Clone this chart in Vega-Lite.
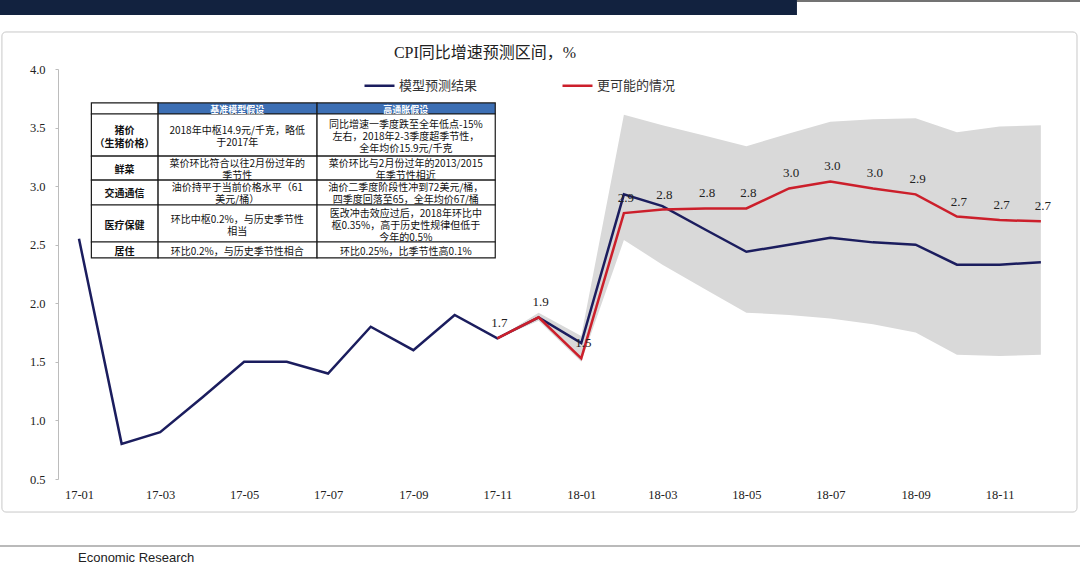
{
  "$schema": "https://vega.github.io/schema/vega-lite/v6.json",
  "width": 998,
  "height": 410,
  "autosize": {"type": "none"},
  "padding": {"left": 58, "top": 69, "right": 24, "bottom": 94},
  "background": "white",
  "config": {
    "view": {"stroke": null},
    "axisX": {
      "labelFont": "Liberation Serif",
      "labelFontSize": 12.5,
      "labelColor": "#222222",
      "tickSize": 0,
      "domain": false,
      "grid": false,
      "labelPadding": 9,
      "labelFlush": false,
      "labelOverlap": false
    },
    "axisY": {
      "labelFont": "Liberation Serif",
      "labelFontSize": 12.5,
      "labelColor": "#222222",
      "domainColor": "#bcbcbc",
      "tickColor": "#bcbcbc",
      "tickSize": 3,
      "grid": false,
      "labelPadding": 10,
      "labelFlush": false,
      "labelOverlap": false
    },
    "text": {"lineBreak": "\n"}
  },
  "datasets": {
    "series": [
      {"date": "2017-01-01", "model": 2.55},
      {"date": "2017-02-01", "model": 0.8},
      {"date": "2017-03-01", "model": 0.9},
      {"date": "2017-04-01", "model": 1.2},
      {"date": "2017-05-01", "model": 1.5},
      {"date": "2017-06-01", "model": 1.5},
      {"date": "2017-07-01", "model": 1.4},
      {"date": "2017-08-01", "model": 1.8},
      {"date": "2017-09-01", "model": 1.6},
      {"date": "2017-10-01", "model": 1.9},
      {"date": "2017-11-01", "model": 1.7, "likely": 1.7, "low": 1.7, "high": 1.7, "label": "1.7"},
      {"date": "2017-12-01", "model": 1.88, "likely": 1.88, "low": 1.85, "high": 1.92, "label": "1.9"},
      {"date": "2018-01-01", "model": 1.66, "likely": 1.53, "low": 1.5, "high": 1.72, "label": "1.5"},
      {"date": "2018-02-01", "model": 2.93, "likely": 2.77, "low": 2.54, "high": 3.61, "label": "2.9"},
      {"date": "2018-03-01", "model": 2.83, "likely": 2.8, "low": 2.33, "high": 3.52, "label": "2.8"},
      {"date": "2018-04-01", "model": 2.63, "likely": 2.81, "low": 2.12, "high": 3.43, "label": "2.8"},
      {"date": "2018-05-01", "model": 2.44, "likely": 2.81, "low": 1.92, "high": 3.34, "label": "2.8"},
      {"date": "2018-06-01", "model": 2.5, "likely": 2.98, "low": 1.9, "high": 3.45, "label": "3.0"},
      {"date": "2018-07-01", "model": 2.56, "likely": 3.04, "low": 1.87, "high": 3.55, "label": "3.0"},
      {"date": "2018-08-01", "model": 2.52, "likely": 2.98, "low": 1.82, "high": 3.57, "label": "3.0"},
      {"date": "2018-09-01", "model": 2.5, "likely": 2.93, "low": 1.75, "high": 3.58, "label": "2.9"},
      {"date": "2018-10-01", "model": 2.33, "likely": 2.74, "low": 1.56, "high": 3.46, "label": "2.7"},
      {"date": "2018-11-01", "model": 2.33, "likely": 2.71, "low": 1.55, "high": 3.51, "label": "2.7"},
      {"date": "2018-12-01", "model": 2.35, "likely": 2.7, "low": 1.56, "high": 3.52, "label": "2.7"}
    ],
    "cells": [
      {"row": "表头", "col": "指标", "text": "", "left": "2017-01-10", "right": "2017-02-27T12:00:00Z", "xmid": "2017-02-03", "top": 3.71, "bottom": 3.616, "ytext": 3.646},
      {"row": "表头", "col": "基准", "text": "基准模型假设", "left": "2017-02-27T12:00:00Z", "right": "2017-06-23", "xmid": "2017-04-26", "top": 3.71, "bottom": 3.616, "ytext": 3.646},
      {"row": "表头", "col": "高通胀", "text": "高通胀假设", "left": "2017-06-23", "right": "2017-10-30T12:00:00Z", "xmid": "2017-08-26T12:00:00Z", "top": 3.71, "bottom": 3.616, "ytext": 3.646},
      {"row": "猪价", "col": "指标", "text": "猪价\n（生猪价格）", "left": "2017-01-10", "right": "2017-02-27T12:00:00Z", "xmid": "2017-02-03", "top": 3.616, "bottom": 3.257, "ytext": 3.474},
      {"row": "猪价", "col": "基准", "text": "2018年中枢14.9元/千克，略低\n于2017年", "left": "2017-02-27T12:00:00Z", "right": "2017-06-23", "xmid": "2017-04-26", "top": 3.616, "bottom": 3.257, "ytext": 3.471},
      {"row": "猪价", "col": "高通胀", "text": "同比增速一季度跌至全年低点-15%\n左右，2018年2-3季度超季节性，\n全年均价15.9元/千克", "left": "2017-06-23", "right": "2017-10-30T12:00:00Z", "xmid": "2017-08-26T12:00:00Z", "top": 3.616, "bottom": 3.257, "ytext": 3.522},
      {"row": "鲜菜", "col": "指标", "text": "鲜菜", "left": "2017-01-10", "right": "2017-02-27T12:00:00Z", "xmid": "2017-02-03", "top": 3.257, "bottom": 3.052, "ytext": 3.138},
      {"row": "鲜菜", "col": "基准", "text": "菜价环比符合以往2月份过年的\n季节性", "left": "2017-02-27T12:00:00Z", "right": "2017-06-23", "xmid": "2017-04-26", "top": 3.257, "bottom": 3.052, "ytext": 3.189},
      {"row": "鲜菜", "col": "高通胀", "text": "菜价环比与2月份过年的2013/2015\n年季节性相近", "left": "2017-06-23", "right": "2017-10-30T12:00:00Z", "xmid": "2017-08-26T12:00:00Z", "top": 3.257, "bottom": 3.052, "ytext": 3.189},
      {"row": "交通通信", "col": "指标", "text": "交通通信", "left": "2017-01-10", "right": "2017-02-27T12:00:00Z", "xmid": "2017-02-03", "top": 3.052, "bottom": 2.839, "ytext": 2.929},
      {"row": "交通通信", "col": "基准", "text": "油价持平于当前价格水平（61\n美元/桶）", "left": "2017-02-27T12:00:00Z", "right": "2017-06-23", "xmid": "2017-04-26", "top": 3.052, "bottom": 2.839, "ytext": 2.98},
      {"row": "交通通信", "col": "高通胀", "text": "油价二季度阶段性冲到72美元/桶，\n四季度回落至65，全年均价67/桶", "left": "2017-06-23", "right": "2017-10-30T12:00:00Z", "xmid": "2017-08-26T12:00:00Z", "top": 3.052, "bottom": 2.839, "ytext": 2.98},
      {"row": "医疗保健", "col": "指标", "text": "医疗保健", "left": "2017-01-10", "right": "2017-02-27T12:00:00Z", "xmid": "2017-02-03", "top": 2.839, "bottom": 2.523, "ytext": 2.664},
      {"row": "医疗保健", "col": "基准", "text": "环比中枢0.2%，与历史季节性\n相当", "left": "2017-02-27T12:00:00Z", "right": "2017-06-23", "xmid": "2017-04-26", "top": 2.839, "bottom": 2.523, "ytext": 2.715},
      {"row": "医疗保健", "col": "高通胀", "text": "医改冲击效应过后，2018年环比中\n枢0.35%，高于历史性规律但低于\n今年的0.5%", "left": "2017-06-23", "right": "2017-10-30T12:00:00Z", "xmid": "2017-08-26T12:00:00Z", "top": 2.839, "bottom": 2.523, "ytext": 2.766},
      {"row": "居住", "col": "指标", "text": "居住", "left": "2017-01-10", "right": "2017-02-27T12:00:00Z", "xmid": "2017-02-03", "top": 2.523, "bottom": 2.387, "ytext": 2.438},
      {"row": "居住", "col": "基准", "text": "环比0.2%，与历史季节性相合", "left": "2017-02-27T12:00:00Z", "right": "2017-06-23", "xmid": "2017-04-26", "top": 2.523, "bottom": 2.387, "ytext": 2.438},
      {"row": "居住", "col": "高通胀", "text": "环比0.25%，比季节性高0.1%", "left": "2017-06-23", "right": "2017-10-30T12:00:00Z", "xmid": "2017-08-26T12:00:00Z", "top": 2.523, "bottom": 2.387, "ytext": 2.438}
    ]
  },
  "layer": [
    {
      "data": {"values": [{}]},
      "mark": {"type": "rect", "fill": "transparent", "stroke": "#c8c8c8", "strokeWidth": 1, "cornerRadius": 4},
      "encoding": {
        "x": {"datum": {"year": 2016, "month": 11, "date": 6, "utc": true}, "type": "temporal", "scale": {"type": "utc"}, "title": null},
        "x2": {"datum": {"year": 2018, "month": 12, "date": 27, "hours": 6, "utc": true}},
        "y": {"datum": 4.316, "type": "quantitative", "title": null},
        "y2": {"datum": 0.218}
      }
    },
    {
      "data": {"values": [{}]},
      "mark": {"type": "rect", "fill": "#12223f"},
      "encoding": {
        "x": {"datum": {"year": 2016, "month": 10, "date": 1, "utc": true}, "type": "temporal", "scale": {"type": "utc"}, "title": null},
        "x2": {"datum": {"year": 2018, "month": 6, "date": 6, "hours": 18, "utc": true}},
        "y": {"datum": 4.75, "type": "quantitative", "title": null},
        "y2": {"datum": 4.461}
      }
    },
    {
      "data": {"values": [{}]},
      "mark": {"type": "rule", "stroke": "#444444", "strokeWidth": 1.5},
      "encoding": {
        "x": {"datum": {"year": 2018, "month": 6, "date": 6, "hours": 18, "utc": true}, "type": "temporal", "scale": {"type": "utc"}, "title": null},
        "x2": {"datum": {"year": 2019, "month": 3, "date": 1, "utc": true}},
        "y": {"datum": 4.58, "type": "quantitative", "title": null}
      }
    },
    {
      "data": {"values": [{}]},
      "mark": {"type": "rule", "stroke": "#777777", "strokeWidth": 1.2},
      "encoding": {
        "x": {"datum": {"year": 2016, "month": 10, "date": 1, "utc": true}, "type": "temporal", "scale": {"type": "utc"}, "title": null},
        "x2": {"datum": {"year": 2019, "month": 3, "date": 1, "utc": true}},
        "y": {"datum": -0.072, "type": "quantitative", "title": null}
      }
    },
    {
      "data": {"values": [{}]},
      "mark": {"type": "text", "align": "left", "baseline": "middle", "font": "Liberation Sans", "fontSize": 13, "color": "#222222"},
      "encoding": {
        "x": {"datum": {"year": 2016, "month": 12, "date": 31, "hours": 7, "utc": true}, "type": "temporal", "scale": {"type": "utc"}, "title": null},
        "y": {"datum": -0.174, "type": "quantitative", "title": null},
        "text": {"value": "Economic Research"}
      }
    },
    {
      "data": {"values": [{}]},
      "mark": {"type": "text", "align": "center", "baseline": "middle", "font": "Liberation Serif, Noto Sans CJK SC", "fontSize": 16, "color": "#222222"},
      "encoding": {
        "x": {"datum": {"year": 2017, "month": 10, "date": 23, "hours": 1, "utc": true}, "type": "temporal", "scale": {"type": "utc"}, "title": null},
        "y": {"datum": 4.137, "type": "quantitative", "title": null},
        "text": {"value": "CPI同比增速预测区间，%"}
      }
    },
    {
      "data": {"name": "series"},
      "transform": [{"filter": {"field": "low", "valid": true}}],
      "mark": {"type": "area", "color": "#d9d9d9", "opacity": 1},
      "encoding": {
        "x": {
          "field": "date",
          "type": "temporal",
          "title": null,
          "scale": {
            "type": "utc",
            "domain": [
              {"year": 2016, "month": 12, "date": 16, "hours": 18, "utc": true},
              {"year": 2018, "month": 12, "date": 12, "utc": true}
            ]
          },
          "axis": {
            "format": "%y-%m",
            "values": [
              {"year": 2017, "month": 1, "date": 1, "utc": true},
              {"year": 2017, "month": 3, "date": 1, "utc": true},
              {"year": 2017, "month": 5, "date": 1, "utc": true},
              {"year": 2017, "month": 7, "date": 1, "utc": true},
              {"year": 2017, "month": 9, "date": 1, "utc": true},
              {"year": 2017, "month": 11, "date": 1, "utc": true},
              {"year": 2018, "month": 1, "date": 1, "utc": true},
              {"year": 2018, "month": 3, "date": 1, "utc": true},
              {"year": 2018, "month": 5, "date": 1, "utc": true},
              {"year": 2018, "month": 7, "date": 1, "utc": true},
              {"year": 2018, "month": 9, "date": 1, "utc": true},
              {"year": 2018, "month": 11, "date": 1, "utc": true}
            ]
          }
        },
        "y": {
          "field": "low",
          "type": "quantitative",
          "title": null,
          "scale": {"domain": [0.5, 4.0], "nice": false, "zero": false},
          "axis": {"values": [0.5, 1.0, 1.5, 2.0, 2.5, 3.0, 3.5, 4.0], "format": ".1f"}
        },
        "y2": {"field": "high"}
      }
    },
    {
      "data": {"name": "series"},
      "mark": {"type": "line", "strokeWidth": 2.5},
      "encoding": {
        "x": {"field": "date", "type": "temporal", "title": null},
        "y": {"field": "model", "type": "quantitative", "title": null},
        "color": {
          "datum": "模型预测结果",
          "type": "nominal",
          "scale": {"domain": ["模型预测结果", "更可能的情况"], "range": ["#1b1d5e", "#cc1f2b"]},
          "legend": {
            "title": null,
            "orient": "none",
            "legendX": 305,
            "legendY": 0,
            "direction": "horizontal",
            "columns": 2,
            "columnPadding": 79,
            "padding": 0,
            "symbolType": "stroke",
            "symbolSize": 900,
            "symbolStrokeWidth": 2.5,
            "labelFont": "Noto Sans CJK SC",
            "labelFontSize": 13,
            "labelColor": "#333333",
            "labelOffset": 3
          }
        }
      }
    },
    {
      "data": {"name": "series"},
      "transform": [{"filter": {"field": "likely", "valid": true}}],
      "mark": {"type": "line", "strokeWidth": 2.5},
      "encoding": {
        "x": {"field": "date", "type": "temporal", "title": null},
        "y": {"field": "likely", "type": "quantitative", "title": null},
        "color": {"datum": "更可能的情况", "type": "nominal"}
      }
    },
    {
      "data": {"name": "series"},
      "transform": [{"filter": {"field": "label", "valid": true}}],
      "mark": {"type": "text", "font": "Liberation Serif", "fontSize": 13, "color": "#222222", "dy": -15, "dx": 2, "baseline": "middle"},
      "encoding": {
        "x": {"field": "date", "type": "temporal", "title": null},
        "y": {"field": "likely", "type": "quantitative", "title": null},
        "text": {"field": "label"}
      }
    },
    {
      "data": {"name": "cells"},
      "mark": {"type": "rect", "stroke": "#1a1a1a", "strokeWidth": 1.2},
      "encoding": {
        "x": {"field": "left", "type": "temporal", "title": null},
        "x2": {"field": "right"},
        "y": {"field": "top", "type": "quantitative", "title": null},
        "y2": {"field": "bottom"},
        "fill": {
          "condition": {"test": "datum.row === '表头' && datum.col !== '指标'", "value": "#3d6fb4"},
          "value": "white"
        }
      }
    },
    {
      "data": {"name": "cells"},
      "transform": [{"filter": "datum.row === '表头'"}],
      "mark": {"type": "text", "font": "Noto Sans CJK SC", "fontSize": 9, "fontWeight": "bold", "color": "white", "baseline": "middle", "align": "center"},
      "encoding": {
        "x": {"field": "xmid", "type": "temporal", "title": null},
        "y": {"field": "ytext", "type": "quantitative", "title": null},
        "text": {"field": "text"}
      }
    },
    {
      "data": {"name": "cells"},
      "transform": [{"filter": "datum.row !== '表头' && datum.col === '指标'"}],
      "mark": {"type": "text", "font": "Noto Sans CJK SC", "fontSize": 10, "fontWeight": "bold", "color": "#111111", "baseline": "middle", "align": "center", "lineHeight": 13},
      "encoding": {
        "x": {"field": "xmid", "type": "temporal", "title": null},
        "y": {"field": "ytext", "type": "quantitative", "title": null},
        "text": {"field": "text"}
      }
    },
    {
      "data": {"name": "cells"},
      "transform": [{"filter": "datum.row !== '表头' && datum.col !== '指标'"}],
      "mark": {"type": "text", "font": "Noto Sans CJK SC", "fontSize": 10, "color": "#111111", "baseline": "middle", "align": "center", "lineHeight": 12},
      "encoding": {
        "x": {"field": "xmid", "type": "temporal", "title": null},
        "y": {"field": "ytext", "type": "quantitative", "title": null},
        "text": {"field": "text"}
      }
    }
  ]
}
